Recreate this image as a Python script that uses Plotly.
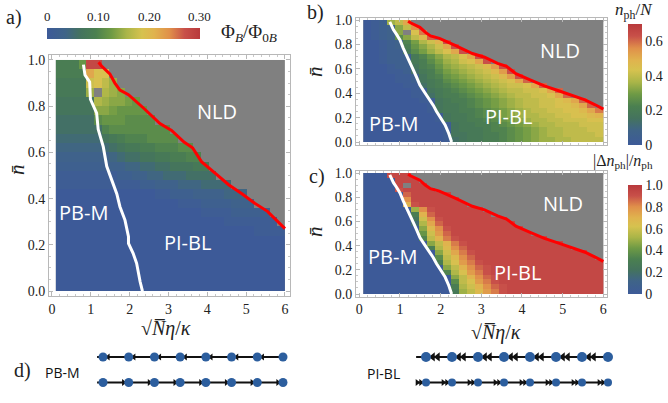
import numpy as np
import plotly.graph_objects as go

W, H = 668, 403

# ---------------- data ----------------
X_EDGES = np.linspace(0.1, 6.0, 31)   # sqrt(N) eta / kappa cell edges
Y_EDGES = np.linspace(0.0, 1.0, 26)   # n-bar cell edges
LEVELS = "0123456789abcdefghijklmnopqrstu"  # 31 levels of colour range; missing tail / '.' = NLD

# rows from n-bar = 0.98 (top) down to 0.02 (bottom); cells after the string end are NLD
phiB_rows = [
    "999css",
    "9999mjj",
    "8888ijhf",
    "8888f.gfe",
    "77777gfeedc",
    "77777eedcccc",
    "66666bcccbbbb",
    "666666abbbbbbbb",
    "555555789aaabbbb",
    "4444445678899aaabb",
    "3333333" + "4566778899aa",
    "2222222" + "3344556677788",
    "11111111" + "2233445556666",
    "1" * 10 + "1223334445555",
    "0" * 13 + "112223333444",
    "0" * 16 + "1112222333",
    "0" * 19 + "111122222",
    "0" * 22 + "1111111",
    "0" * 26 + "1111",
    "0" * 30,
    "0" * 30,
    "0" * 30,
    "0" * 30,
    "0" * 30,
    "0" * 30,
]

nph_rows = [
    "012fhm",
    "0123eho",
    "0123e.jp",
    "0123behkq",
    "00123adgilr",
    "00123" + "9cegimr",
    "00122" + "8bdfhjmr",
    "001222" + "8aceghjmr",
    "001222" + "89bdfgijmr",
    "000122" + "79acefghiknr",
    "000112" + "689bdefghiknr",
    "0000112" + "79acdefghiknr",
    "0000112" + "789bcdefghijmq",
    "0000011" + "689abcdefghiijmq",
    "00000011" + "789abcdefghhiijmq",
    "00000011" + "6899abcdefghhiijmq",
    "000000011" + "7899abcdefghhiijkmq",
    "000000001" + "7889abcdefghhiijjkmq",
    "000000001" + "78899abcdefghhiijjkmp",
    "0000000001" + "7889abcdefgghhiijjkl",
    "0000000001" + "78899abcdefgghhiiijj",
    "00000000001" + "78899abcdefgghhhiii",
    "00000000001" + "78889aabcdefgghhhii",
    "00000000001" + "778899abcdefgghhhhi",
    "00000000001" + "678899abcdeffgghhhh",
]

dnph_rows = [
    "000sss",
    "0000sss",
    "0000s.ss",
    "0000rssss",
    "00000qsssss",
    "00000o" + "s" * 6,
    "00000lr" + "s" * 6,
    "000000for" + "s" * 6,
    "0000009lq" + "s" * 7,
    "0000007ior" + "s" * 8,
    "0000005gmq" + "s" * 9,
    "0000000ekor" + "s" * 9,
    "0000000cinq" + "s" * 10,
    "0000000ahlpr" + "s" * 11,
    "00000000ehlpr" + "s" * 12,
    "000000009gkoq" + "s" * 13,
    "000000000eimpr" + "s" * 14,
    "000000000bhkoq" + "s" * 15,
    "0000000009gjnpr" + "s" * 15,
    "0" * 10 + "ehloqr" + "s" * 14,
    "0" * 10 + "agjnpr" + "s" * 14,
    "0" * 11 + "ehloqr" + "s" * 13,
    "0" * 11 + "bhjnpr" + "s" * 13,
    "0" * 11 + "9giloqr" + "s" * 12,
    "0" * 11 + "8fhknpr" + "s" * 12,
]

# NLD boundary (red) and PB-M / PI-BL boundary (white)
nld_x = [1.2, 1.27, 1.49, 1.62, 1.75, 1.97, 2.37, 2.78, 3.08, 3.4, 3.62, 3.85, 4.2, 4.55, 4.9, 5.22, 5.55, 5.8, 6.0]
nld_y = [0.99, 0.975, 0.94, 0.9, 0.87, 0.85, 0.79, 0.725, 0.695, 0.645, 0.62, 0.56, 0.51, 0.46, 0.42, 0.38, 0.345, 0.305, 0.27]
pbm_a_x = [0.81, 0.85, 0.97, 0.99, 1.15, 1.19, 1.32, 1.41, 1.54, 1.67, 1.75, 1.88, 1.97, 1.97, 2.09, 2.18, 2.27, 2.33]
pbm_a_y = [0.98, 0.935, 0.905, 0.83, 0.77, 0.70, 0.625, 0.54, 0.48, 0.42, 0.365, 0.307, 0.235, 0.206, 0.163, 0.12, 0.04, 0.0]
pbm_bc_x = [0.75, 0.8, 0.84, 0.92, 1.0, 1.08, 1.17, 1.25, 1.33, 1.41, 1.49, 1.6, 1.74, 1.82, 1.9, 2.0, 2.11, 2.2, 2.27]
pbm_bc_y = [0.985, 0.95, 0.92, 0.88, 0.836, 0.77, 0.70, 0.65, 0.59, 0.53, 0.467, 0.41, 0.344, 0.3, 0.25, 0.2, 0.14, 0.07, 0.0]

# colour bar tick values
phiB_ticks = [0, 0.10, 0.20, 0.30]
nph_ticks = [0, 0.2, 0.4, 0.6]
dnph_ticks = [0, 0.2, 0.4, 0.6, 0.8, 1.0]

# panel d chains
chain_sites = [1, 2, 3, 4, 5, 6, 7, 8]

# ---------------- helpers ----------------
def decode(rows, vmax):
    z = []
    for r in reversed(rows):
        r = r.ljust(30, ".")[:30]
        z.append([np.nan if c == "." else LEVELS.index(c) / 30 * vmax for c in r])
    return z

SCALE = [
    [0.00, "#3d5a98"], [0.12, "#3f6488"], [0.22, "#44735e"], [0.32, "#4b8050"],
    [0.42, "#6e9a45"], [0.52, "#aab548"], [0.62, "#d6c24f"], [0.70, "#e0b34e"],
    [0.80, "#e0904a"], [0.90, "#c85049"], [1.00, "#b8393c"],
]
SERIF = "Liberation Serif"
SANS = "Open Sans"

def px(xp):
    return xp / W

def py(yp):
    return 1 - yp / H

fig = go.Figure()

panels = [
    ("x", "y", phiB_rows, 0.30, pbm_a_x, pbm_a_y),
    ("x2", "y2", nph_rows, 0.70, pbm_bc_x, pbm_bc_y),
    ("x3", "y3", dnph_rows, 1.00, pbm_bc_x, pbm_bc_y),
]
cbars = [
    dict(orientation="h", x=px(47), xanchor="left", y=py(39), yanchor="bottom",
         len=153 / W, lenmode="fraction", thickness=11, xpad=0, ypad=0,
         showticklabels=False, ticks="", outlinewidth=0),
    dict(x=px(628), xanchor="left", y=py(24), yanchor="top", len=121 / H, thickness=14,
         xpad=0, ypad=0, tickvals=nph_ticks, ticktext=["0", "0.2", "0.4", "0.6"], ticks="",
         tickfont=dict(family=SERIF, size=14, color="#222"), outlinewidth=0),
    dict(x=px(628), xanchor="left", y=py(185), yanchor="top", len=109 / H, thickness=14,
         xpad=0, ypad=0, tickvals=dnph_ticks, ticktext=["0", "0.2", "0.4", "0.6", "0.8", "1.0"],
         ticks="", tickfont=dict(family=SERIF, size=14, color="#222"), outlinewidth=0),
]

for (xa, ya, rows, vmax, wx, wy), cb in zip(panels, cbars):
    grey = [[1.0] * 30 for _ in range(25)]
    fig.add_trace(go.Heatmap(x=X_EDGES, y=Y_EDGES, z=grey, colorscale=[[0, "#808080"], [1, "#808080"]],
                             showscale=False, hoverinfo="skip", xaxis=xa, yaxis=ya))
    fig.add_trace(go.Heatmap(x=X_EDGES, y=Y_EDGES, z=decode(rows, vmax), zmin=0, zmax=vmax,
                             colorscale=SCALE, colorbar=cb, xaxis=xa, yaxis=ya, hoverinfo="skip"))
    fig.add_trace(go.Scatter(x=wx, y=wy, mode="lines", line=dict(color="white", width=3),
                             xaxis=xa, yaxis=ya, showlegend=False, hoverinfo="skip"))
    fig.add_trace(go.Scatter(x=nld_x, y=nld_y, mode="lines", line=dict(color="#ff0000", width=3),
                             xaxis=xa, yaxis=ya, showlegend=False, hoverinfo="skip"))

# ---------- panel d ----------
def chain(xa, line_start, upper_offsets, upper_sites, lower_offsets, lower_sites,
          up_size, low_size, dot_up, dot_low):
    for yrow in (1, 0):
        fig.add_trace(go.Scatter(x=[line_start, chain_sites[-1]], y=[yrow, yrow], mode="lines",
                                 line=dict(color="#111", width=2), xaxis=xa, yaxis="y4",
                                 showlegend=False, hoverinfo="skip"))
    for off in upper_offsets:
        fig.add_trace(go.Scatter(x=[s + off for s in upper_sites], y=[1] * len(upper_sites),
                                 mode="markers", marker=dict(symbol="triangle-left", size=up_size, color="#111"),
                                 xaxis=xa, yaxis="y4", showlegend=False, hoverinfo="skip"))
    for off in lower_offsets:
        fig.add_trace(go.Scatter(x=[s - off for s in lower_sites], y=[0] * len(lower_sites),
                                 mode="markers", marker=dict(symbol="triangle-right", size=low_size, color="#111"),
                                 xaxis=xa, yaxis="y4", showlegend=False, hoverinfo="skip"))
    fig.add_trace(go.Scatter(x=chain_sites, y=[1] * len(chain_sites), mode="markers",
                             marker=dict(size=dot_up, color="#2c5e9e"), xaxis=xa, yaxis="y4",
                             showlegend=False, hoverinfo="skip"))
    fig.add_trace(go.Scatter(x=chain_sites, y=[0] * len(chain_sites), mode="markers",
                             marker=dict(size=dot_low, color="#2c5e9e"), xaxis=xa, yaxis="y4",
                             showlegend=False, hoverinfo="skip"))

chain("x4", 0.77, [0.2], chain_sites[:-1], [0.2], chain_sites[1:], 6, 6, 9, 9)
chain("x5", 0.62, [0.26, 0.45], chain_sites[:-1], [0.2, 0.34], chain_sites, 8, 6, 10, 8)

# ---------------- axes ----------------
def frame(domain, rng, dtick, minor_dtick, fmt=None, labels=True):
    d = dict(domain=domain, range=rng, showline=True, linecolor="#b8b8b8", linewidth=1,
             mirror="allticks", ticks="inside", ticklen=4, tickcolor="#b8b8b8", tickwidth=1,
             showgrid=False, zeroline=False, dtick=dtick, tick0=0, showticklabels=labels,
             tickfont=dict(family=SERIF, size=14, color="#222"),
             minor=dict(ticks="inside", ticklen=2, tickcolor="#c8c8c8", dtick=minor_dtick, showgrid=False))
    if fmt:
        d["tickformat"] = fmt
    return d

fig.update_layout(
    width=W, height=H, margin=dict(l=0, r=0, t=0, b=0, autoexpand=False),
    paper_bgcolor="white", plot_bgcolor="white", showlegend=False,
    xaxis=dict(frame([px(49), px(290)], [-0.077, 6.13], 1, 0.2), anchor="y"),
    yaxis=dict(frame([py(296), py(55)], [-0.0216, 1.0216], 0.2, 0.05, ".1f"), anchor="x"),
    xaxis2=dict(frame([px(356), px(607)], [-0.081, 6.09], 1, 0.2, labels=False), anchor="y2"),
    yaxis2=dict(frame([py(144.5), py(17.5)], [-0.0205, 1.0205], 0.2, 0.05, ".1f"), anchor="x2"),
    xaxis3=dict(frame([px(356), px(607)], [-0.081, 6.09], 1, 0.2), anchor="y3"),
    yaxis3=dict(frame([py(296.5), py(170.5)], [-0.0207, 1.0207], 0.2, 0.05, ".1f"), anchor="x3"),
    xaxis4=dict(domain=[px(90), px(300)], range=[0.494, 8.661], visible=False, anchor="y4"),
    xaxis5=dict(domain=[px(405), px(625)], range=[0.192, 8.654], visible=False, anchor="y4"),
    yaxis4=dict(domain=[py(395), py(345)], range=[-0.49, 1.47], visible=False, anchor="x4"),
)

# ---------------- annotations ----------------
ann = []

def note(text, x, y, size, family=SERIF, color="#222", angle=0, xref="paper", yref="paper"):
    ann.append(dict(text=text, x=x, y=y, xref=xref, yref=yref, showarrow=False,
                    font=dict(family=family, size=size, color=color), textangle=angle,
                    xanchor="center", yanchor="middle"))

note("a)", px(14), py(18), 20)
note("b)", px(315), py(13), 20)
note("c)", px(317), py(176), 20)
note("d)", px(22), py(370), 20)
nbar = "<i>n\u0304</i>"
note(nbar, px(17), py(170), 21, angle=-90)
note(nbar, px(315), py(72), 21, angle=-90)
note(nbar, px(315), py(232), 21, angle=-90)
xt = "\u221a<i>N\u0305</i><i>\u03b7</i>/<i>\u03ba</i>"
note(xt, px(166), py(328), 20)
note(xt, px(496), py(332), 20)
note("\u03a6<sub><i>B</i></sub>/\u03a6<sub>0<i>B</i></sub>", px(249), py(33), 19)
note("<i>n</i><sub>ph</sub>/<i>N</i>", px(634), py(11), 17)
note("|\u0394<i>n</i><sub>ph</sub>|/<i>n</i><sub>ph</sub>", px(623), py(161), 16)
for v in phiB_ticks:
    note("0" if v == 0 else f"{v:.2f}", px(47 + v / 0.30 * 153), py(17), 13)

# region labels (data coords)
regions = {
    ("x", "y"): [("NLD", 4.25, 0.775), ("PB-M", 0.82, 0.34), ("PI-BL", 3.5, 0.21)],
    ("x2", "y2"): [("NLD", 4.94, 0.746), ("PB-M", 0.84, 0.148), ("PI-BL", 3.66, 0.205)],
    ("x3", "y3"): [("NLD", 5.02, 0.75), ("PB-M", 0.81, 0.306), ("PI-BL", 3.9, 0.18)],
}
for (xa, ya), items in regions.items():
    for t, xv, yv in items:
        note(t, xv, yv, 20, family=SANS, color="white", xref=xa, yref=ya)

note("PB-M", px(63), py(372), 14, family=SANS, color="#111")
note("PI-BL", px(383), py(373), 14, family=SANS, color="#111")

fig.update_layout(annotations=ann)
fig.write_html("out.html", config={"displayModeBar": False},
               post_script="document.body.style.margin='0px';document.body.style.padding='0px';")
